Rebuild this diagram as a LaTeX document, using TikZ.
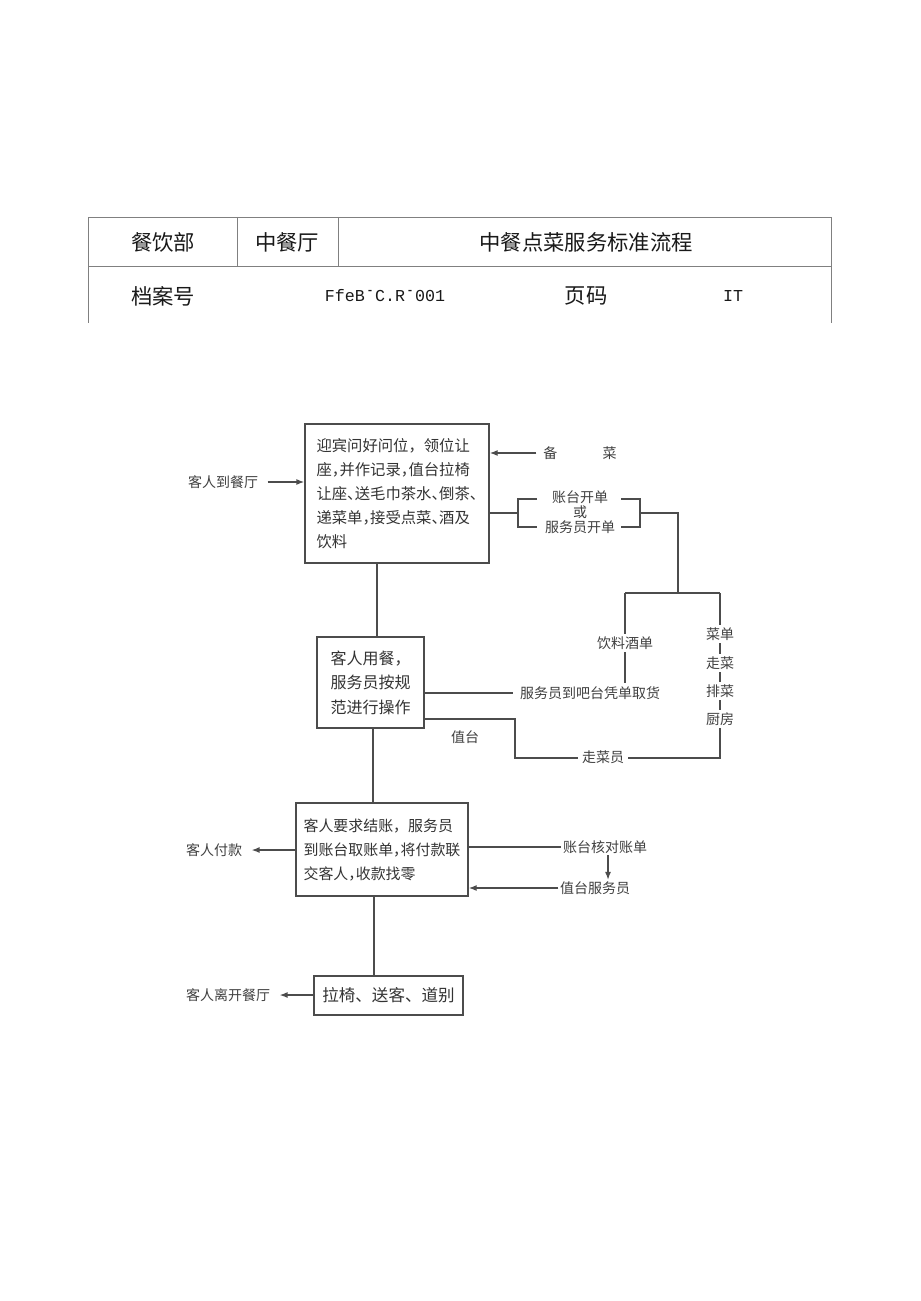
\documentclass[tikz,border=0pt]{standalone}
\usepackage{fontspec}
\setmainfont{Liberation Serif}
\newfontfamily\cjk{Noto Sans CJK SC}
\newfontfamily\monofam{Liberation Mono}
\usetikzlibrary{arrows.meta}
\newcommand{\hw}[1]{\makebox[0.5em][l]{#1}}
\newcommand{\supdash}{\makebox[0.6em][c]{\raisebox{0.75ex}{\scalebox{0.7}[1]{-}}}}
\begin{document}
\begin{tikzpicture}[x=0.75pt,y=-0.75pt,
  tline/.style={draw=black!50, line width=0.7pt},
  fline/.style={draw=black!70, line width=1pt},
  arr/.style={fline, -{Latex[length=6pt,width=4.5pt]}},
  box/.style={draw=black!70, line width=1pt, inner sep=0pt, text=black!80, align=left},
  lab/.style={inner sep=1pt, font=\cjk\fontsize{10.5}{12}\selectfont, text=black!75},
  ttext/.style={inner sep=0pt, font=\cjk\fontsize{16}{18}\selectfont, text=black!90}]
\path[fill=white] (0,0) rectangle (920,1301);
% ---------- header table ----------
\draw[tline] (88,323) -- (88,217) -- (831,217) -- (831,323);
\draw[tline] (88,266) -- (831,266);
\draw[tline] (237,217) -- (237,266);
\draw[tline] (338,217) -- (338,266);
\node[ttext] (t1) at (163,242) {餐饮部};
\node[ttext] (t2) at (287,242) {中餐厅};
\node[ttext] (t3) at (586,242) {中餐点菜服务标准流程};
\node[ttext] (t4) at (163,296) {档案号};
\node[inner sep=0pt, font=\monofam\fontsize{12.5}{14}\selectfont, text=black!90] (t5) at (385,296) {FfeB\supdash C.R\supdash 001};
\node[ttext] (t6) at (586,296) {页码};
\node[inner sep=0pt, font=\monofam\fontsize{12.5}{14}\selectfont, text=black!90] (t7) at (733,296) {IT};
% ---------- flow boxes ----------
\node[box, minimum width=138pt, minimum height=104.25pt, font=\cjk\fontsize{11.5}{18}\selectfont] (b1) at (397,493.5)
 {迎宾问好问位，领位让\\座\hw{，}并作记录\hw{，}值台拉椅\\让座\hw{、}送毛巾茶水\hw{、}倒茶\hw{、}\\递菜单\hw{，}接受点菜\hw{、}酒及\\饮料};
\node[box, minimum width=80.25pt, minimum height=68.25pt, font=\cjk\fontsize{12}{18.4}\selectfont] (b2) at (370.5,682.5)
 {客人用餐，\\服务员按规\\范进行操作};
\node[box, minimum width=129pt, minimum height=69.75pt, font=\cjk\fontsize{11.2}{18}\selectfont] (b3) at (382,849.5)
 {客人要求结账，服务员\\到账台取账单\hw{，}将付款联\\交客人\hw{，}收款找零\hspace{2.5em}};
\node[box, minimum width=111.75pt, minimum height=29.25pt, font=\cjk\fontsize{12.4}{14}\selectfont] (b4) at (388.5,995.5)
 {拉椅、送客、道别};
% ---------- labels ----------
\node[lab] (lk1) at (223,482) {客人到餐厅};
\node[lab] (bc) at (580,453) {备\hspace{34pt}菜};
\node[lab, align=center, font=\cjk\fontsize{10.5}{11.2}\selectfont] (kt) at (580,512) {账台开单\\或\\服务员开单};
\node[lab, inner sep=2pt] (yl) at (625,643) {饮料酒单};
\node[lab] (fw) at (590,693) {服务员到吧台凭单取货};
\node[lab, inner sep=2pt] (cd) at (720,634) {菜单};
\node[lab, inner sep=2pt] (zc) at (720,663) {走菜};
\node[lab, inner sep=2pt] (pc) at (720,691) {排菜};
\node[lab, inner sep=2pt] (cf) at (720,719) {厨房};
\node[lab, inner sep=3pt] (zcy) at (603,757) {走菜员};
\node[lab] (zt) at (465,737) {值台};
\node[lab] (fk) at (214,850) {客人付款};
\node[lab] (hd) at (605,847) {账台核对账单};
\node[lab] (ztf) at (595,888) {值台服务员};
\node[lab] (lk2) at (228,995) {客人离开餐厅};
% ---------- coordinates ----------
\coordinate (bl) at (518,513);
\coordinate (br) at (640,513);
\coordinate (j1) at (678,593);
\coordinate (jl) at (625,593);
\coordinate (jr) at (720,593);
\coordinate (ycut) at (625,683);
\coordinate (ce) at (720,758);
\coordinate (wc1) at (515,758);
\coordinate (wc2) at (515,719);
\coordinate (v1) at (377,0);
\coordinate (v2) at (373,0);
\coordinate (v3) at (374,0);
\coordinate (va) at (608,0);
% ---------- connectors ----------
\draw[arr] ([xshift=6pt]lk1.east) -- (b1.west |- lk1.east);
\draw[arr] ([xshift=-4pt]bc.west) -- (b1.east |- bc.west);
\draw[fline] (b1.east |- bl) -- (bl);
\draw[fline] (537,499) -- (518,499) -- (518,527) -- (537,527);
\draw[fline] (621,499) -- (640,499) -- (640,527) -- (621,527);
\draw[fline] (br) -- (br -| j1) -- (j1);
\draw[fline] (jl) -- (jr);
\draw[fline] (jl) -- (yl.north);
\draw[fline] (yl.south) -- (ycut);
\draw[fline] (jr) -- (cd.north);
\draw[fline] (cd.south) -- (zc.north);
\draw[fline] (zc.south) -- (pc.north);
\draw[fline] (pc.south) -- (cf.north);
\draw[fline] (cf.south) -- (ce) -- (zcy.east |- ce);
\draw[fline] (zcy.west |- wc1) -- (wc1) -- (wc2) -- (b2.east |- wc2);
\draw[fline] (b1.south -| v1) -- (b2.north -| v1);
\draw[fline] (b2.east |- fw.west) -- ([xshift=-4pt]fw.west);
\draw[fline] (b2.south -| v2) -- (b3.north -| v2);
\draw[arr] (b3.west |- fk.east) -- ([xshift=6pt]fk.east);
\draw[fline] (b3.east |- hd.west) -- (hd.west);
\draw[arr] (hd.south -| va) -- (ztf.north -| va);
\draw[arr] (ztf.west) -- (b3.east |- ztf.west);
\draw[fline] (b3.south -| v3) -- (b4.north -| v3);
\draw[arr] (b4.west |- lk2.east) -- ([xshift=6pt]lk2.east);
\end{tikzpicture}
\end{document}
